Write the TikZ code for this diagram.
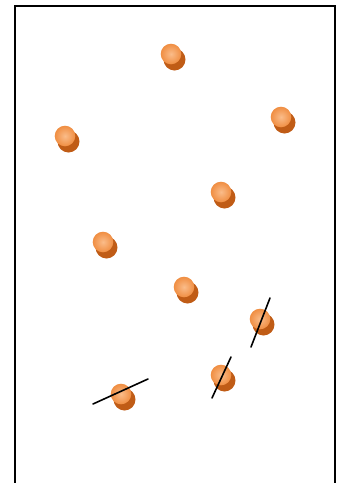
\documentclass[tikz,border=0pt]{standalone}
\usepackage{tikz}
\definecolor{ballorange}{RGB}{240,142,66}
\definecolor{balllight}{RGB}{250,188,138}
\definecolor{ballshadow}{RGB}{192,92,22}
\tikzset{
  ball/.style={inner color=balllight, outer color=ballorange},
  ballshade/.style={fill=ballshadow},
  rod/.style={line width=1.6pt, black, line cap=round}
}
\begin{document}
\begin{tikzpicture}[x=1pt,y=-1pt]
\useasboundingbox (0,0) rectangle (339,483);
% open box
\draw[line width=1.5pt] (15,483) -- (15,6) -- (335,6) -- (335,483);
% balls
\foreach \x/\y in {171/54, 281/117, 65/136, 221/192, 103/242, 184/287, 260/319, 221/375, 121/394} {
  \fill[ballshade] (\x+3.5,\y+5.5) circle (11);
  \shade[ball] (\x,\y) circle (10.3);
}
% rods
\coordinate (r1a) at (251,347); \coordinate (r1b) at (270,298);
\coordinate (r2a) at (212,398); \coordinate (r2b) at (231,357);
\coordinate (r3a) at (93,404);  \coordinate (r3b) at (148,379);
\draw[rod] (r1a) -- (r1b);
\draw[rod] (r2a) -- (r2b);
\draw[rod] (r3a) -- (r3b);
\end{tikzpicture}
\end{document}
